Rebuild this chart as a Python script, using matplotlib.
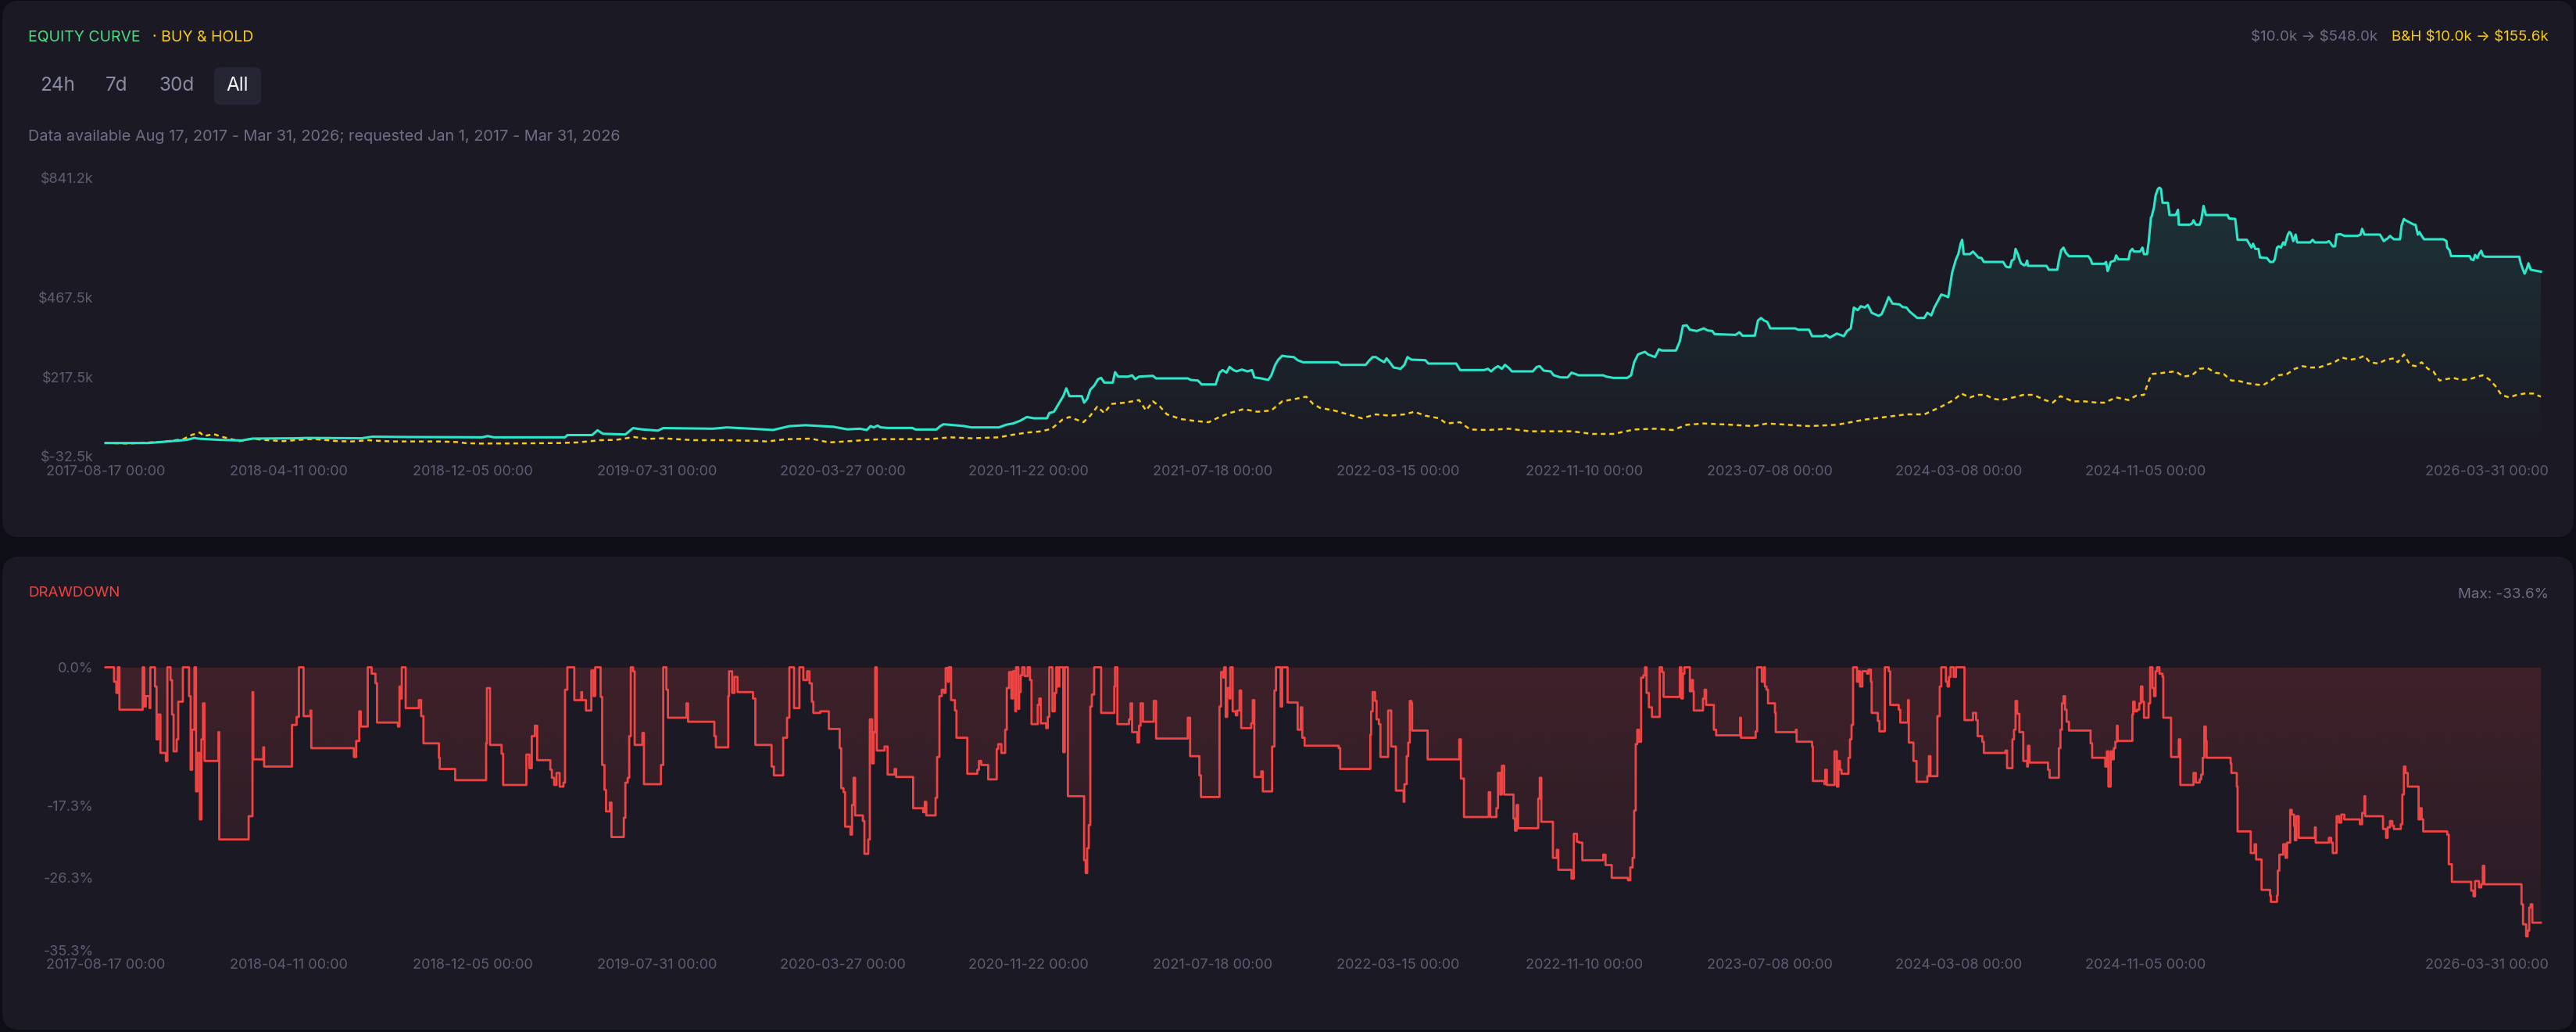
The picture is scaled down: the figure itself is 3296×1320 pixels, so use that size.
import numpy as np
import matplotlib
matplotlib.use("Agg")
import matplotlib.pyplot as plt
import matplotlib.dates as mdates
from matplotlib.colors import to_rgb
from matplotlib.patches import FancyBboxPatch
from matplotlib.transforms import ScaledTranslation

plt.rcParams['font.family'] = ['Inter', 'DejaVu Sans']

# bars are days counted from the first bar
START = np.datetime64("2017-08-17")
END_DAY = 3148

# strategy equity, $k  (day, value)
equity_pts = [
    (0, 10), (55, 10), (76, 14), (105, 20), (115, 26), (119, 24), (147, 20), (176, 18), (190, 24),
    (246, 25), (261, 26), (331, 25), (345, 30), (388, 29), (487, 28), (494, 32), (502, 28), (594, 28),
    (597, 35), (629, 35), (636, 50), (643, 39), (672, 37), (682, 57), (693, 53), (714, 49), (721, 57),
    (785, 55), (803, 59), (835, 55), (863, 51), (884, 63), (905, 66), (941, 61), (959, 53), (975, 55),
    (984, 50.9), (989, 63.2), (993, 59.1), (998, 64.8), (1002, 59.1), (1011, 57.4), (1043, 57.4),
    (1047, 52.5), (1074, 52.5), (1079, 63.2), (1083, 68.9), (1092, 67.3), (1110, 63.2), (1119, 59.1),
    (1155, 59.1), (1164, 67.3), (1173, 71.4), (1182, 79.5), (1191, 91.8), (1200, 87.7), (1217, 87.7),
    (1220, 104.1), (1226, 108.2), (1232, 132.7), (1238, 157.2), (1242, 181.8), (1246, 157.2),
    (1262, 157.2), (1265, 136.8), (1269, 149.1), (1273, 177.7), (1278, 190.0), (1283, 210.4),
    (1287, 214.5), (1291, 199.8), (1302, 199.8), (1305, 232.5), (1309, 218.6), (1322, 218.6),
    (1327, 222.7), (1331, 210.4), (1336, 218.6), (1354, 221.0), (1358, 212.9), (1399, 212.9),
    (1403, 208.0), (1412, 206.3), (1417, 194.0), (1435, 194.0), (1440, 230.9), (1444, 239.1),
    (1449, 230.9), (1453, 248.9), (1458, 239.1), (1462, 235.0), (1469, 240.7), (1476, 235.0),
    (1482, 239.1), (1485, 216.1), (1494, 212.9), (1503, 208.0), (1507, 222.7), (1512, 255.4),
    (1516, 271.8), (1521, 284.0), (1527, 281.6), (1536, 279.9), (1541, 270.1), (1548, 263.6),
    (1593, 263.6), (1597, 255.4), (1629, 255.4), (1633, 267.7), (1638, 279.9), (1642, 279.9),
    (1647, 271.8), (1653, 263.6), (1656, 275.8), (1660, 263.6), (1665, 247.2), (1674, 243.1),
    (1679, 255.4), (1683, 279.9), (1688, 271.8), (1706, 270.1), (1710, 259.5), (1746, 259.5),
    (1751, 239.1), (1782, 239.1), (1787, 243.1), (1791, 235.0), (1796, 245.6), (1800, 251.3),
    (1805, 243.1), (1809, 255.4), (1814, 245.6), (1818, 235.0), (1845, 235.0), (1850, 248.9),
    (1854, 251.3), (1859, 237.4), (1868, 235.0), (1872, 222.7), (1881, 216.1), (1890, 216.1),
    (1895, 230.9), (1900, 226.8), (1904, 222.7), (1936, 222.7), (1940, 218.6), (1949, 214.5),
    (1967, 214.5), (1972, 222.7), (1976, 263.6), (1981, 288.1), (1985, 292.2), (1990, 296.3),
    (1994, 288.1), (2003, 279.9), (2008, 304.5), (2012, 300.4), (2030, 300.4), (2035, 329.0),
    (2039, 378.1), (2044, 379.7), (2048, 365.8), (2057, 361.7), (2066, 369.9), (2071, 363.4),
    (2077, 361.7), (2080, 351.9), (2107, 349.5), (2112, 357.7), (2116, 347.0), (2132, 347.0),
    (2136, 394.5), (2140, 402.6), (2144, 394.5), (2148, 390.4), (2152, 369.9), (2184, 369.9),
    (2188, 365.8), (2202, 365.8), (2206, 345.4), (2220, 345.4), (2224, 349.5), (2229, 341.3),
    (2238, 353.6), (2247, 345.4), (2251, 361.7), (2256, 369.9), (2260, 435.4), (2265, 427.2),
    (2269, 439.5), (2274, 435.4), (2278, 443.5), (2283, 419.0), (2292, 409.2), (2296, 414.9),
    (2301, 443.5), (2305, 468.1), (2310, 447.6), (2319, 445.2), (2323, 437.0), (2328, 435.4),
    (2332, 423.1), (2342, 402.6), (2351, 402.6), (2355, 419.0), (2360, 410.8), (2364, 435.4),
    (2373, 476.3), (2378, 472.2), (2382, 468.1), (2387, 545.0), (2392, 586.7), (2395, 603.0),
    (2398, 635.8), (2400, 648.0), (2402, 603.0), (2410, 603.0), (2414, 611.2), (2417, 603.0),
    (2421, 592.4), (2425, 590.8), (2428, 578.5), (2453, 578.5), (2456, 566.2), (2458, 562.2),
    (2462, 562.2), (2464, 582.6), (2467, 586.7), (2469, 619.4), (2472, 603.0), (2474, 586.7),
    (2476, 574.4), (2480, 567.9), (2482, 570.3), (2484, 582.6), (2485, 566.2), (2509, 566.2),
    (2512, 554.0), (2523, 554.0), (2525, 582.6), (2528, 615.3), (2531, 623.5), (2534, 607.1),
    (2538, 596.5), (2563, 596.5), (2566, 586.7), (2568, 572.8), (2584, 572.8), (2586, 578.5),
    (2588, 549.9), (2590, 562.2), (2592, 578.5), (2597, 582.6), (2599, 599.0), (2602, 586.7),
    (2615, 586.7), (2617, 611.2), (2620, 619.4), (2622, 611.2), (2630, 611.2), (2633, 623.5),
    (2635, 603.0), (2639, 603.0), (2641, 639.9), (2644, 717.6), (2645, 721.7), (2648, 750.3),
    (2650, 787.1), (2653, 807.6), (2655, 811.6), (2657, 807.6), (2659, 764.2), (2666, 764.2),
    (2668, 725.8), (2676, 725.8), (2679, 742.1), (2680, 695.5), (2694, 695.5), (2697, 698.8),
    (2699, 709.4), (2702, 695.5), (2707, 695.5), (2709, 709.4), (2712, 754.4), (2715, 725.8),
    (2743, 725.8), (2745, 715.1), (2753, 713.5), (2756, 648.0), (2768, 648.0), (2771, 635.8),
    (2774, 623.5), (2776, 635.8), (2779, 619.4), (2783, 619.4), (2785, 592.4), (2794, 590.8),
    (2798, 578.5), (2802, 578.5), (2804, 586.7), (2807, 623.5), (2809, 627.6), (2812, 623.5),
    (2815, 639.9), (2817, 631.8), (2821, 664.4), (2823, 672.6), (2825, 668.5), (2828, 643.9),
    (2831, 664.4), (2833, 639.9), (2850, 639.9), (2853, 648.0), (2856, 639.9), (2871, 639.9),
    (2874, 643.9), (2876, 638.2), (2879, 627.6), (2882, 627.6), (2884, 664.4), (2889, 666.0),
    (2894, 660.3), (2911, 660.3), (2915, 664.4), (2917, 682.4), (2920, 664.4), (2940, 664.4),
    (2943, 652.1), (2945, 643.9), (2948, 649.7), (2950, 652.1), (2953, 660.3), (2958, 649.7),
    (2966, 649.7), (2968, 693.0), (2971, 713.5), (2973, 709.4), (2984, 695.5), (2986, 695.5),
    (2989, 664.4), (2991, 672.6), (2994, 660.3), (2997, 649.7), (3022, 649.7), (3026, 643.9),
    (3027, 623.5), (3030, 615.3), (3032, 597.0), (3056, 597.0), (3058, 586.7), (3061, 584.2),
    (3063, 600.6), (3066, 590.8), (3068, 603.0), (3071, 613.7), (3073, 599.0), (3076, 594.9),
    (3120, 594.9), (3122, 574.4), (3125, 554.0), (3127, 541.7), (3130, 558.1), (3132, 574.4),
    (3135, 554.0), (3148, 548.0),
]

# buy & hold, $k
bh_pts = [
    (0, 10), (30, 8.5), (60, 12), (75, 14), (100, 22), (112, 36), (122, 43), (127, 32), (140, 38),
    (150, 30), (173, 16), (190, 24), (203, 20), (230, 16), (255, 21), (268, 23), (300, 16), (318, 15),
    (340, 19), (345, 18), (370, 15), (390, 15), (430, 15), (455, 13), (466, 9.5), (485, 8.5), (540, 9),
    (586, 10), (610, 12), (640, 19), (660, 20), (683, 29), (700, 23), (720, 25), (760, 19), (800, 19),
    (840, 17), (855, 15), (880, 22), (912, 24), (935, 12), (950, 14), (975, 18.2), (1002, 22.3),
    (1065, 22.3), (1092, 28.0), (1119, 24.9), (1155, 28.0), (1169, 34.6), (1191, 42.8), (1210, 46.9),
    (1223, 55.0), (1237, 83.6), (1246, 91.8), (1255, 83.6), (1264, 75.4), (1273, 95.9), (1282, 124.5),
    (1291, 104.1), (1300, 132.7), (1318, 136.8), (1336, 145.0), (1345, 112.3), (1354, 140.9),
    (1363, 124.5), (1372, 100.0), (1390, 85.3), (1408, 79.5), (1426, 75.4), (1440, 91.8), (1453, 104.1),
    (1471, 116.4), (1489, 108.2), (1507, 112.3), (1521, 140.9), (1539, 149.1), (1552, 155.6),
    (1561, 132.7), (1570, 120.4), (1588, 112.3), (1606, 100.0), (1624, 87.7), (1642, 100.0),
    (1660, 95.9), (1679, 100.0), (1692, 108.2), (1706, 95.9), (1724, 87.7), (1733, 71.4), (1751, 75.4),
    (1764, 52.5), (1787, 50.9), (1814, 55.0), (1841, 46.9), (1868, 46.9), (1895, 46.9), (1922, 38.6),
    (1949, 38.6), (1976, 52.5), (2003, 55.0), (2026, 50.9), (2044, 67.3), (2066, 71.4), (2102, 67.3),
    (2130, 63.2), (2148, 71.4), (2175, 67.3), (2202, 63.2), (2238, 67.3), (2256, 75.4), (2274, 83.6),
    (2301, 91.8), (2328, 100.0), (2351, 100.0), (2373, 124.5), (2389, 145.0), (2399, 165.4),
    (2410, 153.2), (2420, 161.3), (2430, 161.3), (2440, 149.1), (2451, 145.0), (2466, 153.2),
    (2479, 161.3), (2492, 161.3), (2507, 145.0), (2517, 136.8), (2527, 157.2), (2543, 140.9),
    (2558, 140.9), (2574, 136.8), (2584, 136.8), (2599, 153.2), (2615, 145.0), (2625, 158.9),
    (2635, 161.3), (2640, 198.1), (2645, 226.8), (2656, 229.2), (2666, 232.5), (2676, 235.0),
    (2686, 218.6), (2697, 222.7), (2707, 243.1), (2717, 245.6), (2727, 230.9), (2738, 226.8),
    (2748, 206.3), (2758, 204.7), (2768, 198.1), (2779, 194.0), (2789, 191.6), (2799, 206.3),
    (2809, 222.7), (2820, 226.8), (2830, 243.1), (2840, 251.3), (2850, 247.2), (2861, 247.2),
    (2871, 255.4), (2881, 263.6), (2891, 278.3), (2902, 271.8), (2912, 275.8), (2920, 284.0),
    (2927, 263.6), (2938, 259.5), (2948, 271.8), (2958, 275.8), (2963, 263.6), (2971, 288.1),
    (2979, 255.4), (2986, 251.3), (2994, 263.6), (3002, 243.1), (3009, 235.0), (3017, 206.3),
    (3025, 210.4), (3035, 214.5), (3045, 208.0), (3056, 210.4), (3066, 218.6), (3073, 222.7),
    (3081, 210.4), (3089, 189.9), (3097, 161.3), (3107, 153.2), (3117, 161.3), (3127, 165.4),
    (3138, 165.4), (3148, 155.6),
]

# drawdown, %  (value holds from that day on)
dd_pts = [
    (0, 0), (11, -1.8), (14, -3.2), (16, 0), (18, -5.3), (48, 0), (50, -4.9), (52, -3.6), (57, -5.1),
    (58, 0), (64, -2.4), (66, -9.0), (68, -5.9), (71, -10.7), (78, -11.7), (80, 0), (84, -1.6),
    (86, -5.9), (88, -10.5), (92, -9.0), (94, -4.3), (100, 0), (108, -3.6), (110, -12.8), (112, -7.8),
    (115, 0), (117, -15.5), (119, -10.7), (122, -19.0), (124, -9.0), (126, -4.5), (128, -11.7),
    (146, -8.1), (147, -21.5), (185, -18.6), (190, -3.1), (191, -11.5), (204, -10.0), (205, -12.4),
    (241, -7.2), (247, -6.2), (250, 0), (256, -6.1), (265, -5.4), (266, -10.1), (321, -11.2),
    (324, -9.2), (328, -5.5), (330, -7.4), (339, 0), (344, -0.8), (349, -2.0), (351, -6.9), (378, -7.4),
    (380, -2.4), (382, -3.9), (383, 0), (388, -5.1), (405, -4.1), (408, -6.1), (411, -9.5), (431, -11.3),
    (432, -12.7), (452, -14.1), (492, -9.5), (493, -2.6), (497, -9.7), (512, -10.8), (514, -14.7),
    (544, -10.9), (548, -12.6), (551, -8.6), (555, -7.3), (558, -11.6), (575, -12.8), (577, -13.8),
    (580, -14.7), (583, -13.2), (587, -14.9), (592, -14.4), (594, -2.8), (597, 0), (606, -4.1),
    (615, -3.1), (616, -4.1), (621, -5.4), (628, -0.4), (631, -3.6), (633, 0), (640, -3.7), (642, -12.2),
    (645, -15.3), (647, -18.0), (652, -16.9), (654, -21.2), (670, -18.8), (672, -14.4), (675, -13.8),
    (677, -8.6), (679, 0), (682, -0.5), (684, -9.7), (694, -8.2), (696, -14.6), (718, -12.2), (721, 0),
    (725, -2.8), (727, -6.3), (751, -4.5), (753, -6.8), (787, -8.6), (789, -10.0), (805, -3.6),
    (806, -0.5), (810, -3.2), (813, -1.2), (817, -3.1), (837, -3.9), (840, -9.7), (861, -12.4),
    (864, -13.5), (876, -8.8), (881, -6.3), (884, 0), (890, -5.1), (897, 0), (902, -1.6), (907, -0.5),
    (910, -2.0), (913, -4.3), (915, -5.7), (924, -5.5), (935, -7.7), (949, -10.1), (951, -15.1),
    (954, -15.6), (956, -19.9), (963, -20.9), (965, -17.2), (967, -13.8), (969, -18.5), (979, -19.2),
    (981, -23.3), (986, -21.5), (988, -6.5), (991, -12.0), (993, -8.1), (995, 0), (997, -10.4),
    (1007, -9.9), (1011, -13.4), (1020, -12.7), (1022, -13.7), (1044, -17.6), (1057, -18.1),
    (1059, -16.8), (1061, -18.5), (1073, -16.3), (1075, -11.2), (1078, -3.6), (1081, -2.8),
    (1084, -3.2), (1086, -0.1), (1089, -1.8), (1090, 0), (1093, -4.1), (1098, -5.4), (1100, -8.8),
    (1114, -13.3), (1127, -12.8), (1129, -11.7), (1132, -12.2), (1141, -14.0), (1152, -10.2),
    (1154, -9.6), (1158, -10.7), (1163, -7.8), (1165, -2.6), (1168, -0.6), (1171, -3.9), (1173, -0.5),
    (1176, -5.5), (1177, 0), (1180, -5.2), (1181, -3.1), (1183, -1.0), (1185, 0), (1188, -1.1),
    (1192, 0), (1195, -1.6), (1197, -7.1), (1205, -4.7), (1207, -3.9), (1209, -7.0), (1216, -7.6),
    (1218, -6.2), (1220, 0), (1224, -5.5), (1227, -3.2), (1229, 0), (1231, -2.4), (1233, 0),
    (1238, -10.6), (1240, 0), (1244, -16.1), (1265, -24.1), (1267, -25.7), (1269, -22.6), (1271, -19.7),
    (1273, -4.9), (1275, -3.4), (1278, 0), (1287, -5.7), (1304, -2.4), (1305, 0), (1308, -7.1),
    (1323, -6.5), (1325, -4.5), (1327, -8.1), (1334, -9.4), (1336, -7.3), (1338, -4.5), (1341, -6.8),
    (1355, -4.2), (1358, -8.9), (1399, -6.3), (1402, -11.1), (1414, -13.5), (1416, -16.2), (1440, -4.9),
    (1442, -0.6), (1445, -1.3), (1446, 0), (1448, -6.2), (1450, -2.6), (1453, -3.9), (1454, 0),
    (1457, -5.5), (1461, -6.0), (1463, -5.4), (1466, -2.9), (1468, -7.6), (1481, -7.0), (1483, -4.1),
    (1485, -13.7), (1494, -13.0), (1496, -15.5), (1508, -9.9), (1511, -2.9), (1513, 0), (1519, -4.9),
    (1521, 0), (1528, -4.4), (1541, -7.8), (1545, -5.0), (1547, -8.8), (1550, -9.8), (1594, -10.1),
    (1596, -12.7), (1635, -8.4), (1636, -5.5), (1638, -3.1), (1641, -4.2), (1643, -6.5), (1646, -7.1),
    (1648, -11.2), (1658, -5.4), (1662, -9.9), (1668, -15.4), (1678, -16.8), (1679, -14.6),
    (1682, -11.1), (1684, -9.4), (1686, -4.2), (1688, -4.5), (1689, -7.9), (1709, -11.5), (1750, -9.0),
    (1752, -13.9), (1756, -18.7), (1788, -15.6), (1790, -18.7), (1798, -17.6), (1800, -13.2),
    (1803, -15.9), (1805, -12.3), (1808, -15.9), (1820, -18.9), (1822, -20.4), (1824, -17.2),
    (1826, -20.1), (1852, -16.4), (1854, -13.8), (1856, -19.3), (1871, -23.8), (1876, -22.8),
    (1878, -25.3), (1895, -26.4), (1898, -20.8), (1902, -21.8), (1905, -21.9), (1909, -24.1),
    (1936, -23.4), (1939, -24.7), (1947, -26.3), (1968, -26.6), (1971, -25.0), (1974, -23.8),
    (1976, -17.9), (1978, -9.6), (1980, -7.8), (1982, -9.3), (1985, -1.3), (1988, -1.0), (1990, 0),
    (1992, -3.2), (1995, -5.0), (1999, -6.2), (2009, 0), (2012, -0.6), (2014, -3.7), (2035, 0),
    (2037, -3.9), (2039, -0.8), (2041, 0), (2048, -3.0), (2050, -1.6), (2052, -3.0), (2053, -5.4),
    (2065, -3.9), (2067, -2.8), (2069, -4.7), (2079, -7.8), (2082, -8.5), (2113, -6.3), (2114, -8.8),
    (2133, -8.0), (2135, 0), (2141, -1.8), (2144, 0), (2145, -2.4), (2147, -2.8), (2149, -4.5),
    (2158, -5.7), (2159, -8.1), (2185, -7.8), (2186, -9.3), (2206, -9.9), (2207, -14.2), (2222, -14.6),
    (2223, -12.8), (2225, -14.7), (2235, -10.5), (2238, -14.9), (2240, -11.7), (2242, -12.8),
    (2244, -13.3), (2253, -11.3), (2255, -9.0), (2257, -7.2), (2259, 0), (2264, -1.8), (2266, -0.5),
    (2268, -2.4), (2271, -0.5), (2277, -0.8), (2279, -0.3), (2282, -1.8), (2283, -5.7), (2291, -6.7),
    (2293, -8.0), (2300, 0), (2305, -0.5), (2307, -4.7), (2318, -5.3), (2320, -6.9), (2330, -4.1),
    (2331, -9.4), (2337, -11.7), (2341, -14.3), (2355, -13.6), (2357, -11.1), (2359, -13.6),
    (2368, -6.1), (2371, -2.4), (2373, 0), (2379, -1.8), (2381, -2.4), (2383, -1.2), (2385, 0),
    (2389, -1.2), (2392, 0), (2403, -6.6), (2414, -5.7), (2418, -6.6), (2420, -8.6), (2426, -9.3),
    (2428, -10.7), (2456, -10.4), (2458, -12.6), (2465, -9.0), (2467, -7.8), (2469, -4.2), (2471, -5.8),
    (2474, -8.1), (2479, -11.7), (2484, -12.4), (2485, -9.8), (2487, -11.9), (2511, -12.8),
    (2513, -13.8), (2525, -10.1), (2527, -7.8), (2529, -4.5), (2531, -3.6), (2533, -5.3), (2535, -6.8),
    (2538, -7.9), (2566, -9.5), (2568, -11.3), (2585, -12.4), (2587, -10.5), (2589, -14.9),
    (2592, -10.5), (2594, -11.5), (2596, -10.1), (2598, -9.3), (2600, -7.3), (2601, -9.2), (2620, -5.9),
    (2621, -4.3), (2623, -5.5), (2626, -5.3), (2629, -4.5), (2631, -2.4), (2633, -4.3), (2635, -6.3),
    (2641, -4.5), (2643, 0), (2646, -2.6), (2648, -3.6), (2650, -0.5), (2652, 0), (2655, -0.8),
    (2659, -1.2), (2660, -6.3), (2670, -11.2), (2680, -9.0), (2682, -14.7), (2699, -13.2),
    (2702, -14.4), (2707, -14.0), (2709, -13.4), (2711, -11.3), (2713, -7.4), (2715, -9.2),
    (2716, -11.3), (2747, -12.0), (2748, -13.2), (2755, -14.9), (2756, -20.5), (2773, -23.2),
    (2778, -22.1), (2780, -24.0), (2787, -27.8), (2798, -28.5), (2799, -29.3), (2807, -28.5),
    (2808, -25.4), (2810, -23.4), (2815, -22.1), (2818, -23.8), (2820, -21.9), (2824, -17.8),
    (2826, -18.4), (2829, -19.8), (2830, -21.6), (2832, -18.6), (2835, -21.3), (2856, -20.0),
    (2857, -21.9), (2874, -21.3), (2877, -21.9), (2879, -23.2), (2884, -18.6), (2887, -19.4),
    (2890, -18.4), (2894, -19.0), (2914, -19.6), (2917, -18.2), (2920, -16.1), (2921, -18.6),
    (2944, -20.2), (2948, -21.3), (2950, -20.0), (2953, -19.2), (2956, -19.8), (2958, -20.2),
    (2967, -19.6), (2969, -15.9), (2971, -12.4), (2973, -13.2), (2976, -14.9), (2990, -19.0),
    (2992, -17.6), (2994, -19.0), (2996, -20.5), (3027, -20.9), (3029, -24.6), (3033, -26.8),
    (3058, -27.9), (3061, -28.6), (3063, -26.7), (3068, -27.5), (3071, -27.1), (3073, -24.8),
    (3075, -27.1), (3123, -29.6), (3125, -32.1), (3129, -33.6), (3131, -32.9), (3133, -30.0),
    (3135, -29.6), (3137, -31.9), (3148, -31.9),
]

x_tick_dates = ["2017-08-17", "2018-04-11", "2018-12-05", "2019-07-31", "2020-03-27", "2020-11-22",
                "2021-07-18", "2022-03-15", "2022-11-10", "2023-07-08", "2024-03-08", "2024-11-05",
                "2026-03-31"]
eq_yticks = [-32.5, 217.5, 467.5, 841.2]
dd_yticks = [0.0, -17.3, -26.3, -35.3]
ranges = ["24h", "7d", "30d", "All"]

BG = "#0e0e16"
PANEL = "#1b1a24"
TEAL = "#2ee6c9"
YELLOW = "#facc15"
GREEN = "#4ade80"
RED = "#ef4444"
TICK = "#5d5d72"
MUTED = "#6e6e85"

W, H = 3296, 1320
fig = plt.figure(figsize=(W / 100, H / 100), dpi=100, facecolor=BG)


def fx(px):
    return px / W


def fy(py):
    return 1 - py / H


def to_dates(days):
    return START + np.asarray(days, dtype=int).astype("timedelta64[D]")


def panel(top, bottom):
    p = FancyBboxPatch((0.03, (H - bottom) / 100), (W - 6) / 100, (bottom - top) / 100,
                       boxstyle="round,pad=0,rounding_size=0.22", transform=fig.dpi_scale_trans,
                       facecolor=PANEL, edgecolor="none", zorder=0)
    fig.add_artist(p)


panel(1, 687)
panel(712, 1317)


def gradient_under(ax, x, y, base, color, a_top, a_bot, step=None):
    poly = ax.fill_between(x, y, base, step=step, facecolor="none", edgecolor="none")
    x0, x1 = ax.get_xlim()
    y0, y1 = ax.get_ylim()
    img = np.zeros((256, 1, 4))
    img[..., :3] = to_rgb(color)
    img[:, 0, 3] = np.linspace(a_top, a_bot, 256)
    im = ax.imshow(img, aspect="auto", extent=[x0, x1, y0, y1], origin="upper",
                   interpolation="bilinear", zorder=1)
    im.set_clip_path(poly.get_paths()[0], transform=ax.transData)
    ax.set_xlim(x0, x1)
    ax.set_ylim(y0, y1)


def style_axis(ax, yticks, ylabels):
    ax.set_facecolor("none")
    for s in ax.spines.values():
        s.set_visible(False)
    xt = mdates.date2num(np.array(x_tick_dates, dtype="datetime64[D]"))
    ax.set_xticks(xt)
    ax.set_xticklabels([d + " 00:00" for d in x_tick_dates])
    ax.set_yticks(yticks)
    ax.set_yticklabels(ylabels)
    ax.tick_params(axis="both", length=0, labelsize=13, labelcolor=TICK)
    ax.tick_params(axis="x", pad=8)
    ax.tick_params(axis="y", pad=11)
    last = ax.get_xticklabels()[-1]
    last.set_ha("right")
    last.set_transform(last.get_transform() + ScaledTranslation(0.10, 0, fig.dpi_scale_trans))


xmin = mdates.date2num(to_dates([0]))[0]
xmax = mdates.date2num(to_dates([END_DAY]))[0]

# equity panel
ax1 = fig.add_axes([fx(135), fy(584), fx(3251) - fx(135), (584 - 228) / H])
eq_day, eq_val = zip(*equity_pts)
bh_day, bh_val = zip(*bh_pts)
eq_x = mdates.date2num(to_dates(eq_day))
bh_x = mdates.date2num(to_dates(bh_day))
ax1.set_xlim(xmin, xmax)
ax1.set_ylim(eq_yticks[0], eq_yticks[-1])
gradient_under(ax1, eq_x, eq_val, eq_yticks[0], TEAL, 0.13, 0.0)
ax1.plot(bh_x, bh_val, color=YELLOW, lw=1.8, ls=(0, (2.4, 2.0)), zorder=2, clip_on=False)
ax1.plot(eq_x, eq_val, color=TEAL, lw=2.2, zorder=3, clip_on=False)
style_axis(ax1, eq_yticks, [f"\\${v:.1f}k" for v in eq_yticks])

# drawdown panel
ax2 = fig.add_axes([fx(135), fy(1215), fx(3251) - fx(135), (1215 - 853.5) / H])
dd_day, dd_val = zip(*dd_pts)
dd_x = mdates.date2num(to_dates(dd_day))
ax2.set_xlim(xmin, xmax)
ax2.set_ylim(dd_yticks[-1], 0)
gradient_under(ax2, dd_x, dd_val, 0, RED, 0.17, 0.05, step="post")
ax2.step(dd_x, dd_val, where="post", color=RED, lw=2.0, zorder=3, clip_on=False)
style_axis(ax2, dd_yticks, [f"{v:.1f}%" for v in dd_yticks])

# header texts
fig.text(fx(36), fy(48), "EQUITY CURVE", color=GREEN, fontsize=14, va="center", ha="left")
fig.text(fx(195), fy(48), "· BUY & HOLD", color=YELLOW, fontsize=14, va="center", ha="left")
fig.text(fx(3042), fy(48), "\\$10.0k → \\$548.0k", color=MUTED, fontsize=13.5, va="center", ha="right")
fig.text(fx(3261), fy(48), "B&H \\$10.0k → \\$155.6k", color=YELLOW, fontsize=13.5, va="center", ha="right")

btn = FancyBboxPatch((2.74, (H - 134) / 100), 0.60, 0.48, boxstyle="round,pad=0,rounding_size=0.08",
                     transform=fig.dpi_scale_trans, facecolor="#262534", edgecolor="none", zorder=1)
fig.add_artist(btn)
for label, cx in zip(ranges, [73.5, 149, 226.5, 303.5]):
    fig.text(fx(cx), fy(110), label, color="#f2f2f7" if label == "All" else "#8b8ba3",
             fontsize=17.5, va="center", ha="center", zorder=2)

fig.text(fx(36), fy(175), "Data available Aug 17, 2017 - Mar 31, 2026; requested Jan 1, 2017 - Mar 31, 2026",
         color=MUTED, fontsize=14.3, va="center", ha="left")

fig.text(fx(36), fy(759), "DRAWDOWN", color=RED, fontsize=13.5, va="center", ha="left")
fig.text(fx(3261), fy(760), "Max: -33.6%", color=MUTED, fontsize=13.5, va="center", ha="right")

fig.savefig("out.png", dpi=100, facecolor=BG)
